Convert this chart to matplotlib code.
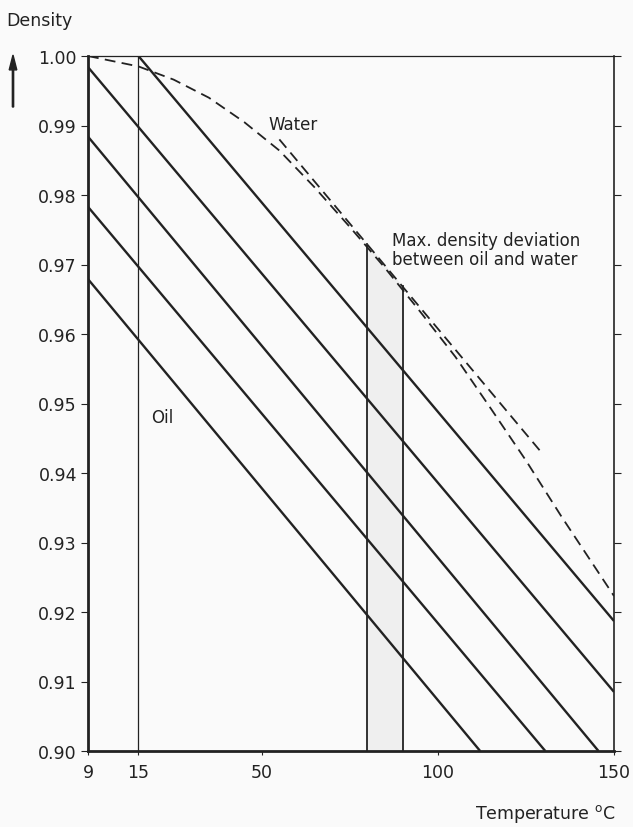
import numpy as np
import matplotlib
matplotlib.use("Agg")
import matplotlib.pyplot as plt

# oil lines: start / end points (temperature, density)
oil_t0 = [15, 9, 9, 9, 9]
oil_d0 = [1.000, 0.9984, 0.9884, 0.9783, 0.9679]
oil_t1 = [150, 150, 145.6, 130.5, 112.0]
oil_d1 = [0.9187, 0.9085, 0.900, 0.900, 0.900]

# water curve (dashed)
water_t = [9, 15, 25, 35, 45, 55, 65, 75, 85, 95, 105, 115, 125, 135, 150]
water_d = [1.0000, 0.9985, 0.9966, 0.9940, 0.9905, 0.9864, 0.9811, 0.9754,
           0.9695, 0.9632, 0.9567, 0.9493, 0.9418, 0.9338, 0.9223]

# dashed oil line touching the water curve
tang_t = [55, 129]
tang_d = [0.9880, 0.9432]

# vertical marker lines
vline_t = [15, 80, 90]
vline_top = [1.000, 0.9730, 0.9669]

x_ticks = [9, 15, 50, 100, 150]
y_ticks = [0.90, 0.91, 0.92, 0.93, 0.94, 0.95, 0.96, 0.97, 0.98, 0.99, 1.00]

# the axis is stretched between 9 and 15
K = (15 - 0.68) / 6.0
def fwd(x):
    x = np.asarray(x, dtype=float)
    return np.where(x < 15, 15 - (15 - x) * K, x)
def inv(u):
    u = np.asarray(u, dtype=float)
    return np.where(u < 15, 15 - (15 - u) / K, u)

ink = "#222222"
plt.rcParams['font.family'] = 'DejaVu Sans'
plt.rcParams['font.size'] = 12.5

fig = plt.figure(figsize=(6.33, 8.28), dpi=100, facecolor="#fafafa")
ax = fig.add_axes([88/633, 1 - 752/828, 526/633, 695/828])
ax.set_facecolor("#fafafa")
ax.set_xscale("function", functions=(fwd, inv))
ax.set_xlim(9, 150)
ax.set_ylim(0.90, 1.00)

# light shading between the two verticals
ax.fill_between([vline_t[1], vline_t[2]], [0.90, 0.90], [vline_top[1], vline_top[2]],
                color="#efefef", lw=0, zorder=1)

for t0, d0, t1, d1 in zip(oil_t0, oil_d0, oil_t1, oil_d1):
    ax.plot([t0, t1], [d0, d1], color=ink, lw=1.7, solid_capstyle="butt", zorder=3)

ax.plot(water_t, water_d, color=ink, lw=1.3, dashes=[6, 3.5], zorder=3)
ax.plot(tang_t, tang_d, color=ink, lw=1.3, dashes=[6, 3.5], zorder=3)

for t, top, lw in zip(vline_t, vline_top, [0.9, 1.3, 1.3]):
    ax.plot([t, t], [0.90, top], color=ink, lw=lw, zorder=2)

ax.set_xticks(x_ticks)
ax.set_xticklabels([str(v) for v in x_ticks])
ax.set_yticks(y_ticks)
ax.set_yticklabels(["%.2f" % v for v in y_ticks])
ax.xaxis.set_minor_locator(matplotlib.ticker.NullLocator())
ax.tick_params(axis="y", left=True, right=True, direction="out", length=5,
               width=0.8, colors=ink, pad=3)
ax.tick_params(axis="x", direction="out", length=3, width=0.8, colors=ink, pad=6)

ax.spines["left"].set_linewidth(2.0)
ax.spines["bottom"].set_linewidth(2.0)
ax.spines["top"].set_linewidth(0.9)
ax.spines["right"].set_linewidth(1.2)
for s in ax.spines.values():
    s.set_color(ink)

ax.text(51.8, 0.9902, "Water", color=ink, fontsize=12, va="center", ha="left")
ax.text(18.7, 0.9481, "Oil", color=ink, fontsize=12, va="center", ha="left")
ax.text(87.0, 0.9722, "Max. density deviation\nbetween oil and water", color=ink,
        fontsize=12, va="center", ha="left", linespacing=1.05)

fig.text(6/633, 1 - 21/828, "Density", color=ink, fontsize=12.5, va="center", ha="left")
fig.text(615/633, 1 - 814/828, "Temperature $^{\\mathrm{o}}$C", color=ink, fontsize=12.5,
         va="center", ha="right")
fig.patches.append(matplotlib.patches.FancyArrow(
    13/633, 1 - 108/828, 0, 52/828, width=0.002, head_width=0.012, head_length=0.018,
    length_includes_head=True, color=ink, transform=fig.transFigure, figure=fig))

fig.savefig("out.png", dpi=100, facecolor=fig.get_facecolor())
